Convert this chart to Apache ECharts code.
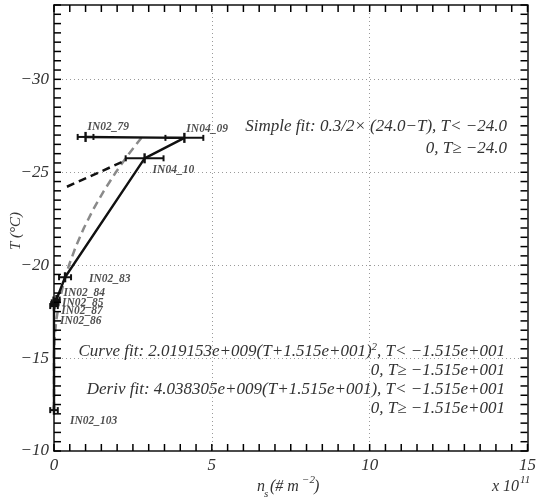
<!DOCTYPE html>
<html>
<head>
<meta charset="utf-8">
<script src="https://cdn.jsdelivr.net/npm/echarts@6/dist/echarts.min.js"></script>
<style>html,body{margin:0;padding:0;background:#fff;}#c{width:539px;height:497px;}</style>
</head>
<body>
<div id="c"></div>
<script>
// ---- data (n_s in units of 1e11 m^-2, T in °C) ----
const pointNames = ['IN02_103','IN02_86','IN02_87','IN02_85','IN02_84','IN02_83','IN04_10','IN04_09','IN02_79'];
const pointN = [0, 0, 0.01, 0.03, 0.08, 0.35, 2.87, 4.13, 1.0];
const pointT = [-12.2, -17.8, -17.9, -18.0, -18.15, -19.35, -25.75, -26.85, -26.9];
const errN = [0.12, 0.12, 0.1, 0.1, 0.1, 0.19, 0.6, 0.6, 0.25];
const errT = [0.25, 0.25, 0.25, 0.25, 0.25, 0.27, 0.27, 0.27, 0.27];

const curveT = [-12.2, -15.15, -16, -17, -18, -19, -20, -21, -22, -23, -24, -25, -26, -26.9];
const curveN = [0, 0, 0.015, 0.069, 0.164, 0.299, 0.475, 0.691, 0.947, 1.244, 1.581, 1.958, 2.375, 2.788];

const simpleT = [-24.22, -25.66];
const simpleN = [0.41, 2.30];

const xTickLabels = [0, 5, 10, 15];
const yTickLabels = [-30, -25, -20, -15, -10];
const xGrid = [5, 10];
const yGrid = [-30, -25, -20, -15];

// axis decoration: small inward ticks every 0.5 units
const X_MIN = 0, X_MAX = 15, Y_MIN = -34, Y_MAX = -10, TICK_STEP = 0.5;
const xTicks = [];
for (let v = X_MIN; v <= X_MAX + 1e-9; v += TICK_STEP) xTicks.push(+v.toFixed(2));
const yTicks = [];
for (let v = Y_MIN; v <= Y_MAX + 1e-9; v += TICK_STEP) yTicks.push(+v.toFixed(2));

// ---- label placement (pixels, style only) ----
const labelOffsets = {
  'IN02_103': [16, 11], 'IN02_86': [6, 15], 'IN02_87': [7, 7], 'IN02_85': [7, 1],
  'IN02_84': [7, -7], 'IN02_83': [24, 2], 'IN04_10': [8, 12], 'IN04_09': [2, -9], 'IN02_79': [2, -10]
};

const FONT = 'Liberation Serif';
const TXT = '#333';
const fmtMinus = v => (v < 0 ? '\u2212' + Math.abs(v) : String(v));

const chart = echarts.init(document.getElementById('c'), null, {renderer: 'canvas'});

const lineData = pointN.map((n, i) => [n, pointT[i]]);
const errData = pointN.map((n, i) => [n, pointT[i], errN[i], errT[i]]);
const curveData = curveN.map((n, i) => [n, curveT[i]]);
const simpleData = simpleN.map((n, i) => [n, simpleT[i]]);
const labelData = pointN.map((n, i) => ({
  value: [n, pointT[i]],
  name: pointNames[i],
  label: { offset: labelOffsets[pointNames[i]] }
}));

function makeAxis(extra) {
  return Object.assign({
    type: 'value',
    interval: 0.5,
    axisLine: { show: true, onZero: false, lineStyle: { color: '#111', width: 1.5 } },
    axisTick: { show: false },
    splitLine: { show: false }
  }, extra);
}

const baseGraphic = [
  { type: 'text', right: 539 - 507, top: 118, style: { text: 'Simple fit: 0.3/2\u00d7 (24.0\u2212T), T< \u221224.0', font: 'italic 17px "Liberation Serif"', fill: TXT } },
  { type: 'text', right: 539 - 507, top: 140, style: { text: '0, T\u2265 \u221224.0', font: 'italic 17px "Liberation Serif"', fill: TXT } },
  { type: 'text', right: 539 - 505, top: 342, style: {
      rich: { a: { fontFamily: FONT, fontStyle: 'italic', fontSize: 17, fill: TXT, lineHeight: 20 },
              s: { fontFamily: FONT, fontStyle: 'italic', fontSize: 11, fill: TXT, lineHeight: 20, verticalAlign: 'top' } },
      text: '{a|Curve fit: 2.019153e+009(T+1.515e+001)}{s|2}{a|, T< \u22121.515e+001}' } },
  { type: 'text', right: 539 - 505, top: 362, style: { text: '0, T\u2265 \u22121.515e+001', font: 'italic 17px "Liberation Serif"', fill: TXT } },
  { type: 'text', right: 539 - 505, top: 381, style: { text: 'Deriv fit: 4.038305e+009(T+1.515e+001), T< \u22121.515e+001', font: 'italic 17px "Liberation Serif"', fill: TXT } },
  { type: 'text', right: 539 - 505, top: 400, style: { text: '0, T\u2265 \u22121.515e+001', font: 'italic 17px "Liberation Serif"', fill: TXT } },
  { type: 'text', x: 16, y: 231, rotation: Math.PI / 2, style: { text: 'T (\u00b0C)', font: 'italic 15px "Liberation Serif"', fill: TXT, textAlign: 'center', textVerticalAlign: 'middle' } },
  { type: 'text', x: 257, y: 487, style: { text: 'n', font: 'italic 16px "Liberation Serif"', fill: TXT, textVerticalAlign: 'middle' } },
  { type: 'text', x: 264, y: 494, style: { text: 's', font: 'italic 11px "Liberation Serif"', fill: TXT, textVerticalAlign: 'middle' } },
  { type: 'text', x: 270, y: 487, style: { text: '(# m', font: 'italic 16px "Liberation Serif"', fill: TXT, textVerticalAlign: 'middle' } },
  { type: 'text', x: 302, y: 480, style: { text: '\u22122', font: 'italic 11px "Liberation Serif"', fill: TXT, textVerticalAlign: 'middle' } },
  { type: 'text', x: 314, y: 487, style: { text: ')', font: 'italic 16px "Liberation Serif"', fill: TXT, textVerticalAlign: 'middle' } },
  { type: 'text', x: 492, y: 487, style: { text: 'x 10', font: 'italic 16px "Liberation Serif"', fill: TXT, textVerticalAlign: 'middle' } },
  { type: 'text', x: 520, y: 480, style: { text: '11', font: 'italic 11px "Liberation Serif"', fill: TXT, textVerticalAlign: 'middle' } }
];

const option = {
  animation: false,
  backgroundColor: '#fff',
  grid: { left: 54, right: 10, top: 5, bottom: 46 },
  xAxis: [
    makeAxis({
      position: 'bottom', min: X_MIN, max: X_MAX,
      axisLabel: {
        margin: 6, color: TXT, fontFamily: FONT, fontStyle: 'italic', fontSize: 17,
        formatter: v => (xTickLabels.indexOf(v) >= 0 ? fmtMinus(v) : '')
      }
    }),
    makeAxis({ position: 'top', min: X_MIN, max: X_MAX, axisLabel: { show: false } })
  ],
  yAxis: [
    makeAxis({
      position: 'left', min: Y_MIN, max: Y_MAX, inverse: true,
      axisLabel: {
        margin: 5, color: TXT, fontFamily: FONT, fontStyle: 'italic', fontSize: 17,
        formatter: v => (yTickLabels.indexOf(v) >= 0 ? fmtMinus(v) : '')
      }
    }),
    makeAxis({ position: 'right', min: Y_MIN, max: Y_MAX, inverse: true, axisLabel: { show: false } })
  ],
  series: [
    {
      type: 'line', data: [], silent: true, z: 1,
      markLine: {
        silent: true, symbol: 'none', animation: false,
        label: { show: false },
        lineStyle: { type: [1, 3], color: '#9a9a9a', width: 1 },
        data: xGrid.map(v => ({ xAxis: v })).concat(yGrid.map(v => ({ yAxis: v })))
      }
    },
    {
      name: 'curve', type: 'line', data: curveData, showSymbol: false, symbol: 'none', z: 3,
      lineStyle: { color: '#8a8a8a', width: 2.5, type: [8, 5] }
    },
    {
      name: 'simple', type: 'line', data: simpleData, showSymbol: false, symbol: 'none', z: 4,
      lineStyle: { color: '#111', width: 2.5, type: [8, 5] }
    },
    {
      name: 'data', type: 'line', data: lineData, showSymbol: false, symbol: 'none', z: 5,
      lineStyle: { color: '#111', width: 2.4 }
    },
    {
      name: 'err', type: 'custom', data: errData, z: 6, clip: false,
      renderItem: function (params, api) {
        const x = api.value(0), y = api.value(1), ex = api.value(2), ey = api.value(3);
        const l = api.coord([x - ex, y]);
        const r = api.coord([x + ex, y]);
        const t = api.coord([x, y - ey]);
        const b = api.coord([x, y + ey]);
        const st = { stroke: '#111', lineWidth: 2 };
        const cap = 3;
        return {
          type: 'group',
          children: [
            { type: 'line', shape: { x1: l[0], y1: l[1], x2: r[0], y2: r[1] }, style: st },
            { type: 'line', shape: { x1: l[0], y1: l[1] - cap, x2: l[0], y2: l[1] + cap }, style: st },
            { type: 'line', shape: { x1: r[0], y1: r[1] - cap, x2: r[0], y2: r[1] + cap }, style: st },
            { type: 'line', shape: { x1: t[0], y1: t[1], x2: b[0], y2: b[1] }, style: { stroke: '#111', lineWidth: 2.4 } }
          ]
        };
      }
    },
    {
      name: 'labels', type: 'scatter', data: labelData, symbolSize: 1, z: 7, silent: true,
      itemStyle: { color: 'rgba(0,0,0,0)' },
      label: {
        show: true, position: 'inside', align: 'left', verticalAlign: 'middle',
        formatter: p => p.name,
        fontFamily: FONT, fontStyle: 'italic', fontWeight: 'bold', fontSize: 11.5, color: '#222'
      }
    }
  ],
  graphic: baseGraphic
};

chart.setOption(option);

// inward ticks on all four sides, placed through the chart's own axis scales
const TICK_LEN = 7;
const tickStyle = { stroke: '#000', lineWidth: 1.5 };
const tickEls = [];
xTicks.forEach(v => {
  const pb = chart.convertToPixel({ gridIndex: 0 }, [v, Y_MAX]);
  const pt = chart.convertToPixel({ gridIndex: 0 }, [v, Y_MIN]);
  tickEls.push({ type: 'line', silent: true, z: 50, shape: { x1: pb[0], y1: pb[1], x2: pb[0], y2: pb[1] - TICK_LEN }, style: tickStyle });
  tickEls.push({ type: 'line', silent: true, z: 50, shape: { x1: pt[0], y1: pt[1], x2: pt[0], y2: pt[1] + TICK_LEN }, style: tickStyle });
});
yTicks.forEach(v => {
  const pl = chart.convertToPixel({ gridIndex: 0 }, [X_MIN, v]);
  const pr = chart.convertToPixel({ gridIndex: 0 }, [X_MAX, v]);
  tickEls.push({ type: 'line', silent: true, z: 50, shape: { x1: pl[0], y1: pl[1], x2: pl[0] + TICK_LEN, y2: pl[1] }, style: tickStyle });
  tickEls.push({ type: 'line', silent: true, z: 50, shape: { x1: pr[0], y1: pr[1], x2: pr[0] - TICK_LEN, y2: pr[1] }, style: tickStyle });
});
chart.setOption({ graphic: baseGraphic.concat(tickEls) });
</script>
</body>
</html>
